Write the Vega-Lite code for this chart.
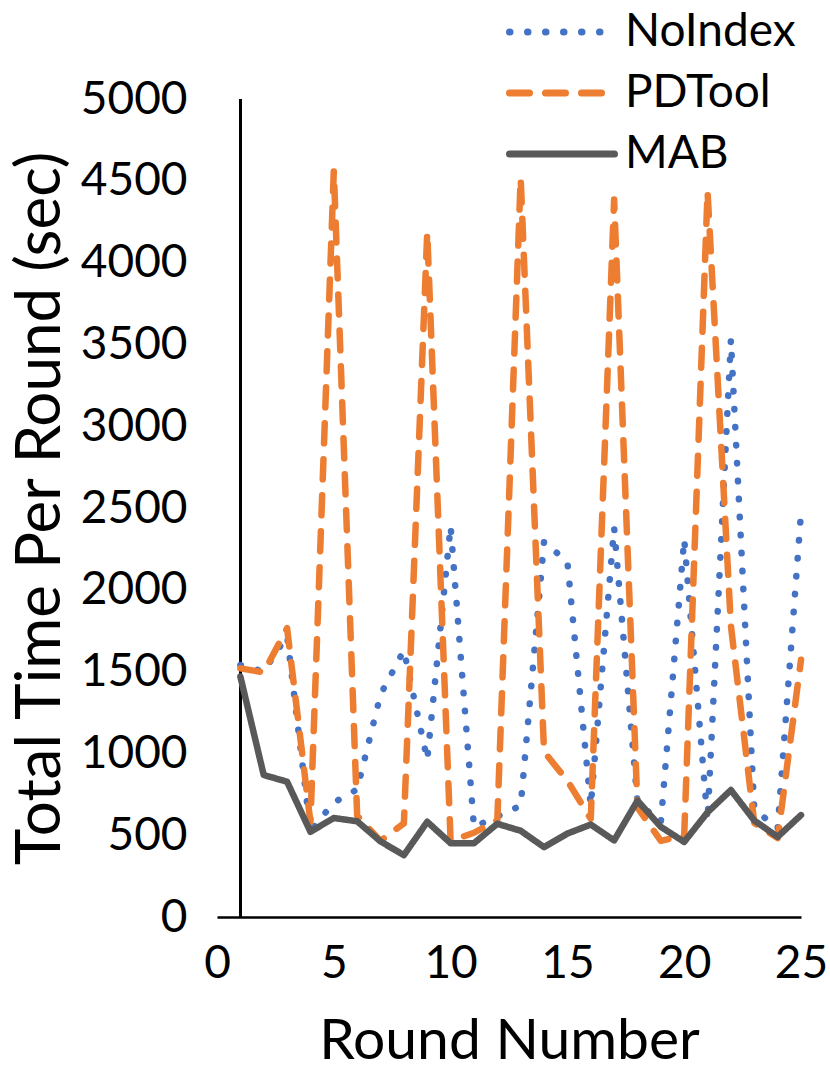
{
  "$schema": "https://vega.github.io/schema/vega-lite/v6.json",
  "autosize": "none",
  "width": 584,
  "height": 818,
  "padding": {"left": 217, "top": 99, "right": 29, "bottom": 153},
  "config": {
    "view": {"stroke": null},
    "font": "Lato",
    "axis": {"grid": false, "labelColor": "black", "titleColor": "black", "labelFont": "Lato", "titleFont": "Lato", "titleFontWeight": "normal"},
    "legend": {"labelFont": "Lato"}
  },
  "data": {
    "values": [
      {"round": 1, "series": "NoIndex", "time": 1540},
      {"round": 2, "series": "NoIndex", "time": 1500},
      {"round": 3, "series": "NoIndex", "time": 1720},
      {"round": 4, "series": "NoIndex", "time": 525},
      {"round": 5, "series": "NoIndex", "time": 700},
      {"round": 6, "series": "NoIndex", "time": 780},
      {"round": 7, "series": "NoIndex", "time": 1360},
      {"round": 8, "series": "NoIndex", "time": 1630},
      {"round": 9, "series": "NoIndex", "time": 960},
      {"round": 10, "series": "NoIndex", "time": 2390},
      {"round": 11, "series": "NoIndex", "time": 550},
      {"round": 12, "series": "NoIndex", "time": 615},
      {"round": 13, "series": "NoIndex", "time": 680},
      {"round": 14, "series": "NoIndex", "time": 2295},
      {"round": 15, "series": "NoIndex", "time": 2170},
      {"round": 16, "series": "NoIndex", "time": 680},
      {"round": 17, "series": "NoIndex", "time": 2380},
      {"round": 18, "series": "NoIndex", "time": 700},
      {"round": 19, "series": "NoIndex", "time": 580},
      {"round": 20, "series": "NoIndex", "time": 2310},
      {"round": 21, "series": "NoIndex", "time": 590},
      {"round": 22, "series": "NoIndex", "time": 3530},
      {"round": 23, "series": "NoIndex", "time": 660},
      {"round": 24, "series": "NoIndex", "time": 540},
      {"round": 25, "series": "NoIndex", "time": 2470},
      {"round": 1, "series": "PDTool", "time": 1520},
      {"round": 2, "series": "PDTool", "time": 1495},
      {"round": 3, "series": "PDTool", "time": 1765},
      {"round": 4, "series": "PDTool", "time": 580},
      {"round": 5, "series": "PDTool", "time": 4560},
      {"round": 6, "series": "PDTool", "time": 620},
      {"round": 7, "series": "PDTool", "time": 465},
      {"round": 8, "series": "PDTool", "time": 572},
      {"round": 9, "series": "PDTool", "time": 4185},
      {"round": 10, "series": "PDTool", "time": 465},
      {"round": 11, "series": "PDTool", "time": 515},
      {"round": 12, "series": "PDTool", "time": 592},
      {"round": 13, "series": "PDTool", "time": 4516},
      {"round": 14, "series": "PDTool", "time": 1010},
      {"round": 15, "series": "PDTool", "time": 833},
      {"round": 16, "series": "PDTool", "time": 600},
      {"round": 17, "series": "PDTool", "time": 4385},
      {"round": 18, "series": "PDTool", "time": 670},
      {"round": 19, "series": "PDTool", "time": 465},
      {"round": 20, "series": "PDTool", "time": 500},
      {"round": 21, "series": "PDTool", "time": 4434},
      {"round": 22, "series": "PDTool", "time": 1780},
      {"round": 23, "series": "PDTool", "time": 575},
      {"round": 24, "series": "PDTool", "time": 482},
      {"round": 25, "series": "PDTool", "time": 1572},
      {"round": 1, "series": "MAB", "time": 1470},
      {"round": 2, "series": "MAB", "time": 868},
      {"round": 3, "series": "MAB", "time": 827},
      {"round": 4, "series": "MAB", "time": 521},
      {"round": 5, "series": "MAB", "time": 605},
      {"round": 6, "series": "MAB", "time": 585},
      {"round": 7, "series": "MAB", "time": 462},
      {"round": 8, "series": "MAB", "time": 378},
      {"round": 9, "series": "MAB", "time": 582},
      {"round": 10, "series": "MAB", "time": 451},
      {"round": 11, "series": "MAB", "time": 451},
      {"round": 12, "series": "MAB", "time": 570},
      {"round": 13, "series": "MAB", "time": 527},
      {"round": 14, "series": "MAB", "time": 427},
      {"round": 15, "series": "MAB", "time": 510},
      {"round": 16, "series": "MAB", "time": 565},
      {"round": 17, "series": "MAB", "time": 468},
      {"round": 18, "series": "MAB", "time": 711},
      {"round": 19, "series": "MAB", "time": 551},
      {"round": 20, "series": "MAB", "time": 459},
      {"round": 21, "series": "MAB", "time": 640},
      {"round": 22, "series": "MAB", "time": 776},
      {"round": 23, "series": "MAB", "time": 590},
      {"round": 24, "series": "MAB", "time": 490},
      {"round": 25, "series": "MAB", "time": 623}
    ]
  },
  "layer": [
    {
      "mark": {"type": "rule", "color": "black", "strokeWidth": 2.5},
      "encoding": {
        "x": {"datum": 1, "type": "quantitative"},
        "y": {"datum": 0, "type": "quantitative"},
        "y2": {"datum": 5000}
      }
    },
    {
      "mark": {"type": "line", "strokeWidth": 6.5, "strokeCap": "round", "strokeJoin": "round"},
      "encoding": {
        "x": {
          "field": "round", "type": "quantitative",
          "scale": {"domain": [0, 25], "nice": false, "zero": false},
          "axis": {
            "values": [0, 5, 10, 15, 20, 25],
            "format": "d",
            "title": "Round Number",
            "titleFontSize": 57,
            "titlePadding": 27,
            "labelFontSize": 46,
            "labelPadding": 24,
            "ticks": false,
            "domainColor": "black",
            "domainWidth": 2.5,
            "labelFlush": false
          }
        },
        "y": {
          "field": "time", "type": "quantitative",
          "scale": {"domain": [0, 5000], "nice": false},
          "axis": {
            "values": [0, 500, 1000, 1500, 2000, 2500, 3000, 3500, 4000, 4500, 5000],
            "format": "d",
            "title": "Total Time Per Round (sec)",
            "titleFontSize": 62,
            "titlePadding": 8,
            "labelFontSize": 46,
            "labelPadding": 30,
            "ticks": false,
            "domain": false,
            "labelFlush": false
          }
        },
        "color": {
          "field": "series", "type": "nominal",
          "scale": {"domain": ["NoIndex", "PDTool", "MAB"], "range": ["#4472C4", "#ED7D31", "#595959"]},
          "legend": {
            "title": null,
            "orient": "none",
            "legendX": 315,
            "legendY": -97,
            "symbolType": "M-2,0H2",
            "symbolSize": 2756,
            "symbolStrokeWidth": 7,
            "labelFontSize": 46,
            "labelLimit": 0,
            "labelOffset": 33,
            "rowPadding": 8,
            "labelColor": "black",
            "encode": {"symbols": {"update": {"strokeCap": {"value": "round"}}}}
          }
        },
        "strokeDash": {
          "field": "series", "type": "nominal",
          "scale": {"domain": ["NoIndex", "PDTool", "MAB"], "range": [[0.5, 17.5], [20, 16], [1, 0]]},
          "legend": {
            "title": null,
            "orient": "none",
            "legendX": 315,
            "legendY": -97,
            "symbolType": "M-2,0H2",
            "symbolSize": 2756,
            "symbolStrokeWidth": 7,
            "labelFontSize": 46,
            "labelLimit": 0,
            "labelOffset": 33,
            "rowPadding": 8,
            "labelColor": "black",
            "encode": {"symbols": {"update": {"strokeCap": {"value": "round"}}}}
          }
        }
      }
    }
  ]
}
